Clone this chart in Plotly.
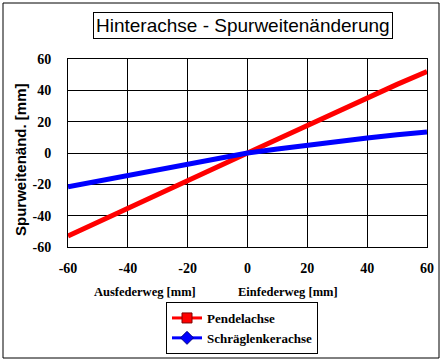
import plotly.graph_objects as go

x_vals = [-60, -50, -40, -30, -20, -10, 0, 10, 20, 30, 40, 50, 60]
pendel = [-53.0, -44.3, -35.5, -26.6, -17.7, -8.9, 0.0, 8.8, 17.6, 26.4, 35.3, 43.8, 52.0]
schraeg = [-21.5, -17.8, -14.3, -10.5, -6.8, -3.3, 0.0, 2.5, 5.0, 7.3, 9.6, 11.6, 13.4]
tick_vals = [-60, -40, -20, 0, 20, 40, 60]
tick_text = ["-60", "-40", "-20", "0", "20", "40", "60"]

serif = "Liberation Serif"
sans = "Liberation Sans"

fig = go.Figure()
fig.add_trace(go.Scatter(x=x_vals, y=pendel, name="Pendelachse", mode="lines",
                         line=dict(color="#ff0000", width=5), showlegend=False))
fig.add_trace(go.Scatter(x=x_vals, y=schraeg, name="Schräglenkerachse", mode="lines",
                         line=dict(color="#0000ff", width=5), showlegend=False))
# legend entries
fig.add_trace(go.Scatter(x=[None], y=[None], name="<b>Pendelachse</b>", mode="lines+markers",
                         line=dict(color="#ff0000", width=3),
                         marker=dict(symbol="square", size=10, color="#ff0000",
                                     line=dict(color="#800000", width=1))))
fig.add_trace(go.Scatter(x=[None], y=[None], name="<b>Schräglenkerachse</b>", mode="lines+markers",
                         line=dict(color="#0000ff", width=3),
                         marker=dict(symbol="diamond", size=10, color="#0000ff",
                                     line=dict(color="#000080", width=1))))

fig.update_layout(
    width=447, height=361,
    margin=dict(l=68, r=20, t=59, b=114, autoexpand=False),
    paper_bgcolor="white", plot_bgcolor="white",
    showlegend=True,
    legend=dict(x=(166-68)/359, y=(247-302)/188, xanchor="left", yanchor="top",
                bordercolor="black", borderwidth=1, bgcolor="white",
                font=dict(family=serif, size=13, color="black"),
                tracegroupgap=0, itemwidth=30),
    xaxis=dict(range=[-60, 60], tickvals=tick_vals,
               ticktext=["<b>%s</b>" % t for t in tick_text], showgrid=True,
               gridcolor="black", gridwidth=1, zeroline=False, showline=True,
               linecolor="black", mirror=True, ticks="",
               tickfont=dict(family=serif, size=14, color="black"),
               ticklabelstandoff=8),
    yaxis=dict(range=[-60, 60], tickvals=tick_vals,
               ticktext=["<b>%s</b>" % t for t in tick_text], showgrid=True,
               gridcolor="black", gridwidth=1, zeroline=False, showline=True,
               linecolor="black", mirror=True, ticks="",
               tickfont=dict(family=serif, size=14, color="black"),
               ticklabelstandoff=13),
    shapes=[dict(type="rect", xref="paper", yref="paper",
                 x0=-65/359, x1=(439-68)/359, y0=(247-358)/188, y1=(247-3)/188,
                 line=dict(color="black", width=1), fillcolor="rgba(0,0,0,0)", layer="below")],
    annotations=[
        dict(text="Hinterachse - Spurweitenänderung", xref="paper", yref="paper",
             x=(242.5-68)/359, y=(247-25.5)/188, showarrow=False,
             xanchor="center", yanchor="middle",
             font=dict(family=sans, size=19, color="black"),
             bordercolor="black", borderwidth=1, borderpad=2),
        dict(text="<b>Spurweitenänd. [mm]</b>", xref="paper", yref="paper",
             x=(20-68)/359, y=(247-160)/188, textangle=-90, showarrow=False,
             xanchor="center", yanchor="middle",
             font=dict(family=sans, size=15, color="black")),
        dict(text="<b>Ausfederweg [mm]</b>", xref="paper", yref="paper",
             x=(145-68)/359, y=(247-292)/188, showarrow=False,
             xanchor="center", yanchor="middle",
             font=dict(family=serif, size=12.5, color="black")),
        dict(text="<b>Einfederweg [mm]</b>", xref="paper", yref="paper",
             x=(288-68)/359, y=(247-292)/188, showarrow=False,
             xanchor="center", yanchor="middle",
             font=dict(family=serif, size=12.5, color="black")),
    ],
)

fig.write_html("out.html", config={"displayModeBar": False},
               post_script="document.body.style.margin='0';")
